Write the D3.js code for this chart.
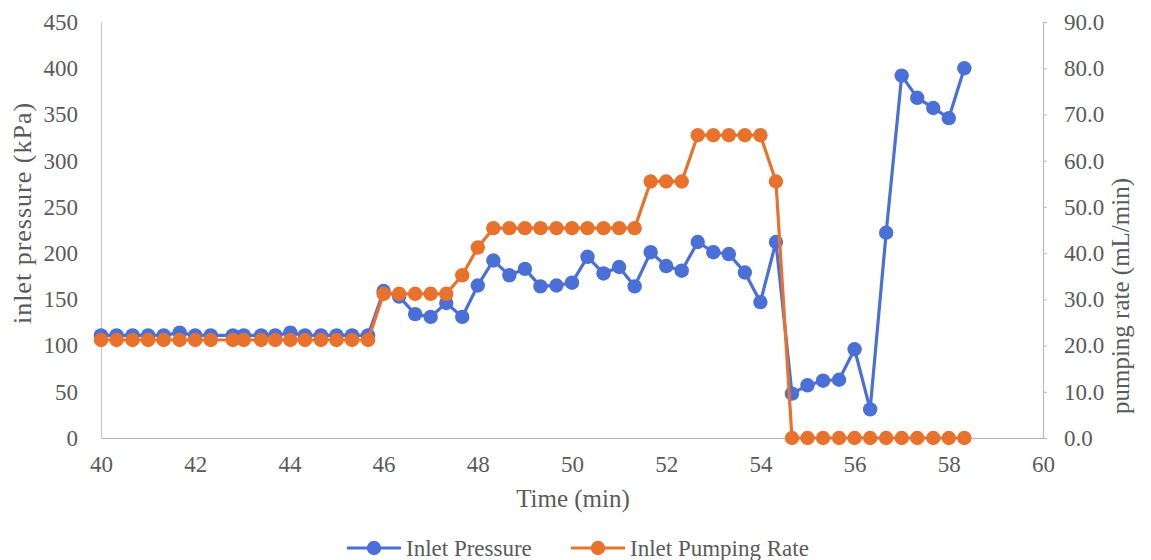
<!DOCTYPE html>
<html>
<head>
<meta charset="utf-8">
<script src="https://cdn.jsdelivr.net/npm/d3@7"></script>
<style>
  html, body { margin: 0; padding: 0; background: #fff; }
</style>
</head>
<body>
<svg id="chart" width="1151" height="560"></svg>
<script>
// Sampling times (min)
const times = [
  40.0, 40.33, 40.67, 41.0, 41.33, 41.67, 42.0, 42.33, 42.8, 43.03,
  43.4, 43.7, 44.02, 44.33, 44.67, 45.0, 45.33, 45.67,
  46.0, 46.33, 46.67, 47.0, 47.33, 47.67, 48.0, 48.33, 48.67, 49.0,
  49.33, 49.67, 50.0, 50.33, 50.67, 51.0, 51.33, 51.67, 52.0, 52.33,
  52.67, 53.0, 53.33, 53.67, 54.0, 54.33, 54.67, 55.0, 55.33, 55.67,
  56.0, 56.33, 56.67, 57.0, 57.33, 57.67, 58.0, 58.33
];

// Inlet pressure (kPa)
const inletPressure = [
  111, 111, 111, 111, 111, 114, 111, 111, 111, 111,
  111, 111, 114, 111, 111, 111, 111, 111,
  159, 153, 134, 131, 146, 131, 165, 192, 176, 183,
  164, 165, 168, 196, 178, 185, 164, 201, 186, 181,
  212, 201, 199, 179, 147, 212, 48, 57, 62, 63,
  96, 31, 222, 392, 368, 357, 346, 400
];

// Inlet pumping rate (mL/min)
const pumpingRate = [
  21.2, 21.2, 21.2, 21.2, 21.2, 21.2, 21.2, 21.2, 21.2, 21.2,
  21.2, 21.2, 21.2, 21.2, 21.2, 21.2, 21.2, 21.2,
  31.2, 31.2, 31.2, 31.2, 31.2, 35.2, 41.2, 45.4, 45.4, 45.4,
  45.4, 45.4, 45.4, 45.4, 45.4, 45.4, 45.4, 55.5, 55.5, 55.5,
  65.5, 65.5, 65.5, 65.5, 65.5, 55.5, 0, 0, 0, 0,
  0, 0, 0, 0, 0, 0, 0, 0
];

const xTicks = [40, 42, 44, 46, 48, 50, 52, 54, 56, 58, 60];
const leftTicks = [0, 50, 100, 150, 200, 250, 300, 350, 400, 450];
const rightTicks = [0, 10, 20, 30, 40, 50, 60, 70, 80, 90];

const seriesNames = ["Inlet Pressure", "Inlet Pumping Rate"];
const colors = ["#4a70d8", "#e8722c"];

const FONT = "'Liberation Serif', Tinos, 'Times New Roman', Times, serif";
const TEXT_COLOR = "#5a5a5a";

const svg = d3.select("#chart");
const plotLeft = 101, plotRight = 1043, plotTop = 22, plotBottom = 438;

const x = d3.scaleLinear().domain([40, 60]).range([plotLeft, plotRight]);
const yL = d3.scaleLinear().domain([0, 450]).range([plotBottom, plotTop]);
const yR = d3.scaleLinear().domain([0, 90]).range([plotBottom, plotTop]);

function styleTicks(g) {
  g.attr("font-family", null).attr("font-size", null);
  g.selectAll("text")
    .style("font-family", FONT).style("font-size", "23px").style("fill", TEXT_COLOR);
}

// Axes
const xAxis = svg.append("g").attr("transform", `translate(0,${plotBottom})`)
  .call(d3.axisBottom(x).tickValues(xTicks).tickSize(0).tickPadding(18).tickFormat(d3.format("d")));
xAxis.select(".domain").attr("stroke", "#b0b0b0").attr("stroke-width", 1.2);
styleTicks(xAxis);

const yAxisL = svg.append("g").attr("transform", `translate(${plotLeft},0)`)
  .call(d3.axisLeft(yL).tickValues(leftTicks).tickSize(0).tickPadding(23).tickFormat(d3.format("d")));
yAxisL.select(".domain").attr("stroke", "#c8c8c8").attr("stroke-width", 1.2);
styleTicks(yAxisL);

const yAxisR = svg.append("g").attr("transform", `translate(${plotRight},0)`)
  .call(d3.axisRight(yR).tickValues(rightTicks).tickSizeOuter(0).tickSizeInner(4).tickPadding(17).tickFormat(d3.format(".1f")));
yAxisR.select(".domain").attr("stroke", "#b8b8cc").attr("stroke-width", 1.2);
yAxisR.selectAll("line").attr("stroke", "#b8b8cc");
styleTicks(yAxisR);

// Axis titles
function title(sel, size) {
  return sel.attr("text-anchor", "middle")
    .style("font-family", FONT).style("font-size", size + "px").style("fill", TEXT_COLOR);
}
title(svg.append("text").attr("x", (plotLeft + plotRight) / 2 + 1).attr("y", 507), 25).text("Time (min)");
title(svg.append("text").attr("transform", `translate(31,213) rotate(-90)`), 26)
  .style("letter-spacing", "1px").text("inlet pressure (kPa)");
title(svg.append("text").attr("transform", `translate(1129,296) rotate(-90)`), 25).text("pumping rate (mL/min)");

// Series
const pressurePts = times.map((t, i) => [x(t), yL(inletPressure[i])]);
const ratePts = times.map((t, i) => [x(t), yR(pumpingRate[i])]);
const line = d3.line();

function drawSeries(pts, color) {
  const g = svg.append("g");
  g.append("path").attr("d", line(pts)).attr("fill", "none")
    .attr("stroke", color).attr("stroke-width", 3.2).attr("stroke-linejoin", "round");
  g.selectAll("circle").data(pts).join("circle")
    .attr("cx", d => d[0]).attr("cy", d => d[1]).attr("r", 7.2).attr("fill", color);
}
drawSeries(pressurePts, colors[0]);
drawSeries(ratePts, colors[1]);

// Legend
const legendY = 548;
const legendItems = [
  { x0: 347, name: seriesNames[0], color: colors[0] },
  { x0: 571, name: seriesNames[1], color: colors[1] }
];
legendItems.forEach(item => {
  const g = svg.append("g");
  g.append("line").attr("x1", item.x0).attr("x2", item.x0 + 54)
    .attr("y1", legendY).attr("y2", legendY)
    .attr("stroke", item.color).attr("stroke-width", 3.2);
  g.append("circle").attr("cx", item.x0 + 27).attr("cy", legendY).attr("r", 7.2).attr("fill", item.color);
  g.append("text").attr("x", item.x0 + 59).attr("y", legendY).attr("dy", "0.35em")
    .style("font-family", FONT).style("font-size", "23px").style("fill", TEXT_COLOR)
    .text(item.name);
});
</script>
</body>
</html>
